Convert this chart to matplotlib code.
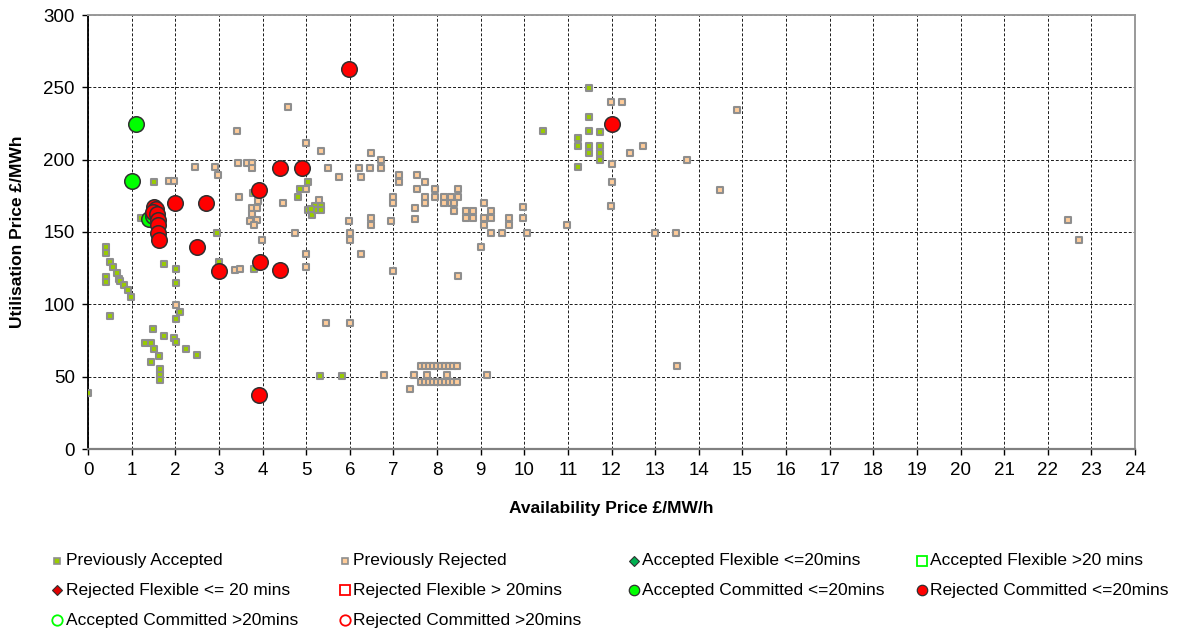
import matplotlib
matplotlib.use("Agg")
import matplotlib.pyplot as plt
from matplotlib.lines import Line2D

plt.rcParams['font.family'] = ['Liberation Sans', 'DejaVu Sans']

W, H = 1178, 635

# ---------------- data: availability price (£/MW/h), utilisation price (£/MWh) ----------------
prev_accepted_avail = [
    0.0, 0.405, 0.405, 0.405, 0.405, 0.50, 0.58, 0.67, 0.70, 0.74, 0.82, 0.92, 0.99, 0.50,
    1.21, 1.51, 1.50, 1.75, 1.31, 1.44, 1.52, 1.62, 1.44, 1.66, 1.66, 1.66, 1.96, 2.02,
    2.02, 2.10, 2.25, 2.49, 1.74, 2.01, 2.01, 2.96, 3.00, 3.80, 3.79, 4.82, 4.87, 5.04,
    5.05, 5.13, 5.20, 5.25, 5.35, 5.35, 5.12, 5.32, 5.82,
    10.44, 11.24, 11.24, 11.24, 11.48, 11.48, 11.48, 11.73, 11.48, 11.48, 11.73, 11.73, 11.73,
]
prev_accepted_util = [
    38.5, 139.6, 135.7, 118.9, 115.4, 129.5, 125.6, 121.9, 117.5, 116.0, 113.6, 109.9, 105.3, 91.9,
    160.0, 184.6, 83.0, 77.9, 73.3, 73.3, 68.9, 64.3, 59.9, 55.5, 51.4, 47.5, 76.7, 74.0,
    89.6, 94.5, 68.9, 64.8, 127.9, 124.4, 115.0, 149.6, 129.5, 124.4, 176.7, 174.4, 179.4, 184.3,
    165.0, 162.0, 168.0, 165.0, 168.0, 165.0, 166.0, 50.7, 50.7,
    220.0, 214.8, 209.7, 194.7, 249.8, 229.5, 220.0, 219.1, 209.7, 204.8, 209.7, 204.8, 199.8,
]

prev_rejected_avail = [
    2.01, 1.86, 1.96, 2.45, 2.90, 2.99, 3.44, 3.64, 3.76, 3.76, 3.41, 3.47, 3.90,
    3.77, 3.88, 3.77, 3.80, 3.72, 3.88, 3.80, 3.98, 3.37, 3.49,
    4.59, 4.99, 5.34, 6.49, 6.72, 5.49, 5.75, 6.22, 6.46, 6.72, 6.25,
    7.13, 7.55, 7.72, 7.13, 7.55, 6.99, 6.99, 7.72, 7.72, 7.50, 7.50,
    4.99, 4.48, 5.30, 4.74, 5.99, 6.00, 6.00, 6.49, 6.49, 6.94, 6.25, 5.00, 5.00, 6.99,
    7.96, 7.96, 8.48, 8.48, 8.15, 8.32, 8.15, 8.32, 8.40, 8.40,
    8.66, 8.82, 8.66, 8.82, 9.07, 9.07, 9.07, 9.24, 9.24, 9.24, 9.49, 9.66, 9.66,
    9.98, 9.98, 10.07, 10.98, 9.00, 8.48, 6.00, 5.45,
    7.63, 7.72, 7.82, 7.91, 8.00, 8.09, 8.18, 8.28, 8.37, 8.46,
    7.63, 7.72, 7.82, 7.91, 8.00, 8.09, 8.18, 8.28, 8.37, 8.46,
    6.79, 7.48, 7.76, 8.23, 9.15, 7.37,
    11.99, 12.24, 14.87, 12.42, 12.73, 13.73, 12.02, 12.02, 11.99, 12.99, 13.48, 14.48, 13.49,
    22.46, 22.72,
]
prev_rejected_util = [
    99.8, 185.0, 185.0, 194.6, 194.6, 189.5, 197.5, 197.5, 197.5, 194.5, 219.8, 174.4, 171.4,
    166.8, 166.8, 162.4, 158.3, 157.4, 158.3, 154.6, 144.5, 123.8, 124.4,
    236.6, 211.5, 206.2, 204.8, 199.8, 194.5, 188.3, 194.5, 194.5, 194.5, 188.3,
    189.4, 189.4, 184.3, 184.3, 179.4, 174.4, 169.8, 174.4, 169.8, 166.3, 158.7,
    179.4, 169.8, 172.0, 149.5, 157.6, 149.5, 144.5, 160.0, 154.6, 157.6, 134.6, 134.6, 125.6, 122.8,
    179.4, 174.4, 179.4, 174.4, 174.4, 174.4, 169.8, 169.8, 169.8, 164.7,
    164.7, 164.7, 159.7, 159.7, 169.8, 159.7, 154.6, 164.7, 159.7, 149.5, 149.5, 159.7, 154.6,
    167.5, 159.7, 149.5, 154.6, 139.6, 119.4, 86.9, 86.9,
    57.6, 57.6, 57.6, 57.6, 57.6, 57.6, 57.6, 57.6, 57.6, 57.6,
    46.3, 46.3, 46.3, 46.3, 46.3, 46.3, 46.3, 46.3, 46.3, 46.3,
    50.9, 50.9, 50.9, 50.9, 50.9, 41.2,
    239.6, 239.6, 234.5, 204.8, 209.7, 199.8, 197.2, 184.5, 167.7, 149.5, 149.5, 179.0, 57.6,
    158.5, 144.5,
]

acc_committed_avail = [1.00, 1.10, 1.40, 1.48]
acc_committed_util = [185.5, 224.6, 159.0, 161.0]

rej_committed_avail = [
    1.52, 1.56, 1.50, 1.58, 1.60, 1.60, 1.60, 1.62,
    2.00, 2.70, 2.50, 3.00, 3.93, 3.95, 3.92, 4.40, 4.40, 4.90, 5.98, 12.00,
]
rej_committed_util = [
    167.5, 166.0, 164.0, 162.5, 158.0, 155.0, 149.0, 144.5,
    170.0, 170.0, 139.5, 123.0, 179.0, 129.0, 37.3, 194.5, 124.0, 194.5, 262.5, 224.6,
]

x_ticks = list(range(0, 25))
y_ticks = [0, 50, 100, 150, 200, 250, 300]

# ---------------- series styles ----------------
GREEN_SQ = '#99CC00'
TAN_SQ = '#FFCC99'
SQ_EDGE = '#8E8E8E'
RED = '#FF0000'
LIME = '#00FF00'
DARK = '#303030'

fig = plt.figure(figsize=(W / 100, H / 100), dpi=100)
ax = fig.add_axes([88 / W, 1 - 449 / H, (1135 - 88) / W, (449 - 15) / H])

ax.scatter(prev_rejected_avail, prev_rejected_util, marker='s', s=15,
           facecolor=TAN_SQ, edgecolor=SQ_EDGE, linewidths=1.5, zorder=3)
ax.scatter(prev_accepted_avail, prev_accepted_util, marker='s', s=15,
           facecolor=GREEN_SQ, edgecolor=SQ_EDGE, linewidths=1.5, zorder=4)
ax.scatter(acc_committed_avail, acc_committed_util, marker='o', s=125,
           facecolor=LIME, edgecolor=DARK, linewidths=1.1, zorder=5)
ax.scatter(rej_committed_avail, rej_committed_util, marker='o', s=125,
           facecolor=RED, edgecolor=DARK, linewidths=1.1, zorder=6)

ax.set_xlim(0, 24)
ax.set_ylim(0, 300)
ax.set_xticks(x_ticks)
ax.set_yticks(y_ticks)
ax.grid(True, color='#1a1a1a', linestyle=(0, (3, 2)), linewidth=0.7)
ax.set_axisbelow(True)
ax.tick_params(direction='out', length=4.5, width=1.0, colors='black',
               labelsize=13.5, pad=5)
ax.spines['left'].set_color('black')
ax.spines['left'].set_linewidth(1.3)
ax.spines['bottom'].set_color('#808080')
ax.spines['bottom'].set_linewidth(1.6)
for side in ('top', 'right'):
    ax.spines[side].set_color('#999999')
    ax.spines[side].set_linewidth(1.4)

fig.text(611 / W, 1 - 508 / H, 'Availability Price £/MW/h', ha='center', va='center',
         fontsize=12.5, fontweight='bold')
fig.text(18 / W, 1 - 232 / H, 'Utilisation Price £/MWh', ha='center', va='center',
         rotation=90, fontsize=12.5, fontweight='bold')

# ---------------- legend (4 columns x 3 rows) ----------------
legend_entries = [
    ('Previously Accepted', 0, 0, dict(marker='s', ms=3.8, mfc=GREEN_SQ, mec=SQ_EDGE, mew=1.2)),
    ('Previously Rejected', 1, 0, dict(marker='s', ms=3.8, mfc=TAN_SQ, mec=SQ_EDGE, mew=1.2)),
    ('Accepted Flexible <=20mins', 2, 0, dict(marker='D', ms=5.0, mfc='#00B050', mec=DARK, mew=0.8)),
    ('Accepted Flexible >20 mins', 3, 0, dict(marker='s', ms=7.0, mfc='none', mec=LIME, mew=1.3)),
    ('Rejected Flexible <= 20 mins', 0, 1, dict(marker='D', ms=5.0, mfc='#E00000', mec=DARK, mew=0.8)),
    ('Rejected Flexible > 20mins', 1, 1, dict(marker='s', ms=7.0, mfc='none', mec=RED, mew=1.3)),
    ('Accepted Committed <=20mins', 2, 1, dict(marker='o', ms=7.5, mfc=LIME, mec=DARK, mew=0.9)),
    ('Rejected Committed <=20mins', 3, 1, dict(marker='o', ms=7.5, mfc=RED, mec=DARK, mew=0.9)),
    ('Accepted Committed >20mins', 0, 2, dict(marker='o', ms=7.5, mfc='none', mec=LIME, mew=1.3)),
    ('Rejected Committed >20mins', 1, 2, dict(marker='o', ms=7.5, mfc='none', mec=RED, mew=1.3)),
]
col_marker_x = [57, 345, 634, 922]
row_y = [561, 590, 620]
for label, col, row, st in legend_entries:
    mx = col_marker_x[col] / W
    my = 1 - row_y[row] / H
    fig.add_artist(Line2D([mx], [my], linestyle='none', transform=fig.transFigure, **st))
    fig.text(mx + 8.5 / W, my, label, ha='left', va='center', fontsize=12.5)

fig.savefig('out.png', dpi=100)
